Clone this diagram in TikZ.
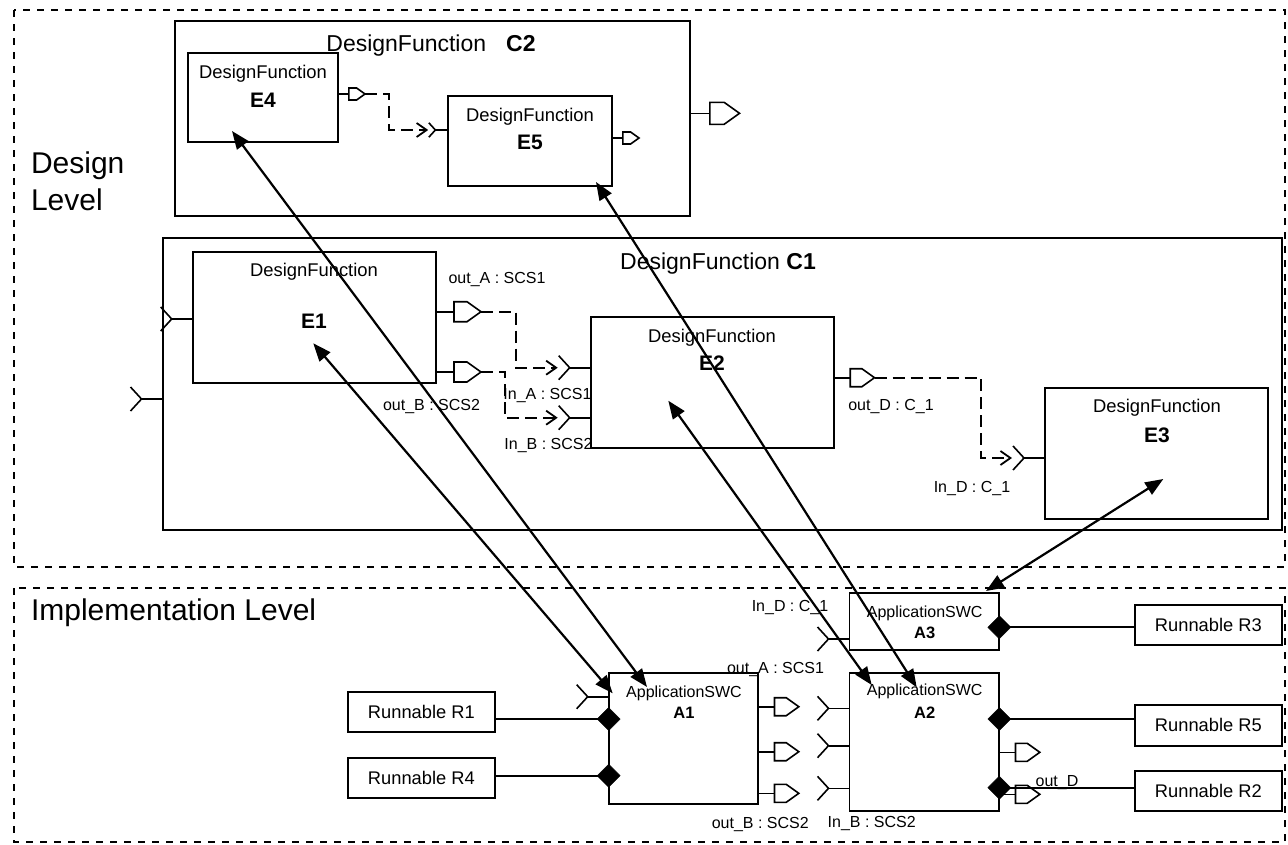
\documentclass[tikz,border=0pt]{standalone}
\usepackage{fontspec}
\setmainfont{Liberation Sans}
\usetikzlibrary{arrows.meta,shapes.geometric,calc}
\tikzset{
  every node/.style={inner sep=0pt, outer sep=0pt},
  box/.style={draw, line width=1.8pt, rectangle},
  level/.style={draw, line width=1.3pt, dash pattern=on 7pt off 7pt},
  portline/.style={line width=1.6pt, line join=miter},
  flow/.style={line width=1.8pt, dash pattern=on 12pt off 6pt, -{Straight Barb[length=10pt,width=14pt]}},
  trace/.style={line width=2.2pt, {Triangle[length=18pt,width=14pt]}-{Triangle[length=18pt,width=14pt]}},
  conn/.style={line width=2.2pt},
  diam/.style={diamond, aspect=1, fill=black, draw=black, minimum size=23pt},
  lbl/.style={font=\fontsize{16}{18}\selectfont},
  dfn/.style={font=\fontsize{18.4}{21}\selectfont},
  ename/.style={font=\bfseries\fontsize{21}{24}\selectfont},
  aname/.style={font=\bfseries\fontsize{16.5}{19}\selectfont},
  run/.style={box, font=\fontsize{18.3}{21}\selectfont},
  title/.style={font=\fontsize{23}{26}\selectfont},
  big/.style={font=\fontsize{30}{36}\selectfont},
  oport/.pic={
    \draw[portline] (0,0) -- (18,0);
    \draw[portline] (18,-10) -- (31,-10) -- (45,0) -- (31,10) -- (18,10) -- cycle;
    \coordinate (-tip) at (45,0);
  },
  iport/.pic={
    \draw[portline] (0,0) -- (-21,0);
    \draw[portline] (-32,-12) -- (-21,0) -- (-32,12);
    \coordinate (-in) at (-33,0);
  },
}
\begin{document}
\begin{tikzpicture}[x=1pt,y=-1pt]
\useasboundingbox (0,0) rectangle (1288,844);

% level frames
\draw[level] (14,10) rectangle (1285,567);
\draw[level] (14,588) rectangle (1285,842);
\node[big, anchor=base west] (dl1) at (31,173) {Design};
\node[big, anchor=base west] (dl2) at (31,210) {Level};
\node[big, anchor=base west] (il) at (31,620) {Implementation Level};

% design level boxes
\node[box, minimum width=515pt, minimum height=195pt] (C2) at (432.5,118.5) {};
\node[title] (C2t) at (431,46) {DesignFunction\hspace{20pt}\textbf{C2}};
\node[box, minimum width=150pt, minimum height=89pt] (E4) at (263,97.5) {};
\node[dfn] (E4a) at (263,74) {DesignFunction};
\node[ename] (E4b) at (263,100) {E4};
\node[box, minimum width=164pt, minimum height=90pt] (E5) at (530,141) {};
\node[dfn] (E5a) at (530,117) {DesignFunction};
\node[ename] (E5b) at (530,142) {E5};

\node[box, minimum width=1119pt, minimum height=292pt] (C1) at (722.1,384) {};
\node[title] (C1t) at (718,264) {DesignFunction \textbf{C1}};
\node[box, minimum width=243.3pt, minimum height=131.3pt] (E1) at (314.35,317.35) {};
\node[dfn] (E1a) at (314,272) {DesignFunction};
\node[ename] (E1b) at (314,321) {E1};
\node[box, minimum width=243.3pt, minimum height=131pt] (E2) at (712.35,382.5) {};
\node[dfn] (E2a) at (712,338) {DesignFunction};
\node[ename] (E2b) at (712,363) {E2};
\node[box, minimum width=223pt, minimum height=131.3pt] (E3) at (1156.5,453.35) {};
\node[dfn] (E3a) at (1157,408) {DesignFunction};
\node[ename] (E3b) at (1157,435) {E3};

% design ports
\pic (pC1) at (162.5,399) {iport};
\pic (pE1i) at (192.7,319) {iport};
\pic (pOA) at (436,311.7) {oport};
\pic (pOB) at (436,372) {oport};
\pic (iA) at (590.7,367.7) {iport};
\pic (iB) at (590.7,417.7) {iport};
\pic[scale=0.9] (pOD) at (834,377.7) {oport};
\pic (iD) at (1045,458) {iport};
\pic[scale=0.6] (pE4) at (338,94) {oport};
\pic[scale=0.6] (iE5) at (448,130) {iport};
\pic[scale=0.6] (pE5) at (612,138) {oport};
\pic[scale=1.1] (pC2) at (690,113.3) {oport};

\node[lbl] (lOA) at (497,279) {out\_A : SCS1};
\node[lbl] (lOB) at (431.5,406.7) {out\_B : SCS2};
\node[lbl] (lIA) at (547.5,395) {In\_A : SCS1};
\node[lbl] (lIB) at (548.5,445.7) {In\_B : SCS2};
\node[lbl] (lOD) at (891,406) {out\_D : C\_1};
\node[lbl] (lID) at (972,488) {In\_D : C\_1};

\draw[flow] (pOA-tip) -- ++(35,0) |- (iA-in);
\draw[flow] (pOB-tip) -- ++(24,0) |- (iB-in);
\draw[flow] (pOD-tip) -- ++(106.5,0) |- (iD-in);
\draw[flow] (pE4-tip) -- ++(24,0) |- (iE5-in);

% implementation level
\node[box, minimum width=149.6pt, minimum height=131pt] (A1) at (683.5,738.5) {};
\node[lbl] (A1a) at (684,693) {ApplicationSWC};
\node[aname] (A1b) at (684,713) {A1};
\node[box, minimum width=149.8pt, minimum height=137.4pt] (A2) at (924.4,742) {};
\node[lbl] (A2a) at (924.7,691.7) {ApplicationSWC};
\node[aname] (A2b) at (924.7,712.7) {A2};
\node[box, minimum width=149.8pt, minimum height=56.7pt] (A3) at (924.4,621.65) {};
\node[lbl] (A3a) at (924.7,613) {ApplicationSWC};
\node[aname] (A3b) at (924.7,633) {A3};

\node[run, minimum width=147.3pt, minimum height=40pt] (R1) at (421.35,712.3) {Runnable R1};
\node[run, minimum width=147.3pt, minimum height=40.6pt] (R4) at (421.35,778) {Runnable R4};
\node[run, minimum width=146.7pt, minimum height=40pt] (R3) at (1208.35,625) {Runnable R3};
\node[run, minimum width=146.7pt, minimum height=40.7pt] (R5) at (1208.35,725.35) {Runnable R5};
\node[run, minimum width=146.7pt, minimum height=40pt] (R2) at (1208.35,790.7) {Runnable R2};

\pic (iA1) at (608.7,696.7) {iport};
\pic[scale=0.9] (oA1a) at (758.3,706.7) {oport};
\pic[scale=0.9] (oA1b) at (758.3,751.7) {oport};
\pic[scale=0.9] (oA1c) at (758.3,793.3) {oport};
\pic (iA2a) at (849.5,708.3) {iport};
\pic (iA2b) at (849.5,745.7) {iport};
\pic (iA2c) at (849.5,788.3) {iport};
\pic (iA3) at (849.5,639) {iport};
\pic[scale=0.9] (oA2a) at (999.3,752.3) {oport};
\pic[scale=0.9] (oA2b) at (999.3,794.3) {oport};

\node[lbl] (lID2) at (790,607) {In\_D : C\_1};
\node[lbl] (lOA2) at (775.5,669) {out\_A : SCS1};
\node[lbl] (lOB2) at (760.3,824) {out\_B : SCS2};
\node[lbl] (lIB2) at (871.7,823) {In\_B : SCS2};
\node[lbl] (lOD2) at (1057,783) {out\_D};

\node[diam] (d1) at (608.7,719) {};
\node[diam] (d2) at (608.7,775.7) {};
\node[diam] (d3) at (999.3,627.3) {};
\node[diam] (d4) at (999.3,719) {};
\node[diam] (d5) at (999.3,787.7) {};
\draw[conn] (R1.east |- d1) -- (d1.center);
\draw[conn] (R4.east |- d2) -- (d2.center);
\draw[conn] (d3.center) -- (R3.west |- d3);
\draw[conn] (d4.center) -- (R5.west |- d4);
\draw[conn] (d5.center) -- (R2.west |- d5);

% trace arrows between levels
\coordinate (tE4) at (232,131);
\coordinate (tA1b) at (647,687);
\coordinate (tE1) at (313.3,343.3);
\coordinate (tA1a) at (612.7,693.3);
\coordinate (tE5) at (596,182);
\coordinate (tA2b) at (916.7,687.3);
\coordinate (tE2) at (668.3,400.7);
\coordinate (tA2a) at (871.7,685);
\coordinate (tE3) at (1163.3,479);
\coordinate (tA3) at (986,591);
\draw[trace] (tE4) -- (tA1b);
\draw[trace] (tE1) -- (tA1a);
\draw[trace] (tE5) -- (tA2b);
\draw[trace] (tE2) -- (tA2a);
\draw[trace] (tE3) -- (tA3);
\end{tikzpicture}
\end{document}
